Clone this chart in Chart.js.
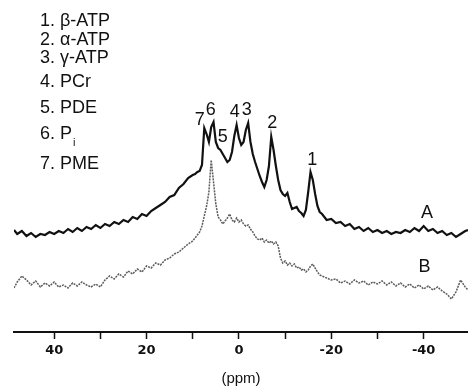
<!DOCTYPE html>
<html lang="en">
<head>
  <meta charset="UTF-8">
  <title>31P spectrum</title>
  <style>
    html, body { margin: 0; padding: 0; background: #fff; }
    #wrap { width: 468px; height: 390px; }
  </style>
</head>
<body>
  <div id="wrap"><canvas id="spectrum"></canvas></div>

  <script src="https://cdn.jsdelivr.net/npm/chart.js@4"></script>
  <script>
    // chemical shift grid (ppm)
    const ppm = [48.7,
      48, 47, 46, 45, 44, 43, 42, 41, 40, 39, 38, 37, 36, 35, 34, 33, 32, 31, 30, 29,
      28, 27, 26, 25, 24, 23, 22, 21, 20, 19, 18, 17, 16, 15, 14, 13, 12, 11, 10,
      9.5, 9, 8.5, 8, 7.5, 7, 6.5, 6, 5.5, 5, 4.5, 4, 3.5, 3, 2.5, 2, 1.5, 1, 0.5, 0,
      -0.5, -1, -1.5, -2, -2.5, -3, -3.5, -4, -4.5, -5, -5.5, -6, -6.5, -7, -7.5, -8,
      -8.5, -9, -9.5, -10, -10.5, -11, -11.5, -12, -12.5, -13, -13.5, -14, -14.5, -15,
      -15.5, -16, -16.5, -17, -17.5, -18,
      -19, -20, -21, -22, -23, -24, -25, -26, -27, -28, -29, -30, -31, -32, -33, -34,
      -35, -36, -37, -38, -39, -40, -41, -42, -43, -44, -45, -46, -47, -48, -49, -49.6];

    // spectrum A (upper trace), arbitrary intensity
    const specA = [102,
      98, 101, 96, 99, 95, 98, 97, 100, 98, 101, 99, 103, 100, 104, 101, 105, 103, 107, 104, 108,
      106, 110, 108, 112, 110, 115, 113, 118, 116, 121, 124, 127, 130, 135, 137, 144, 148, 154, 157,
      158, 160, 161, 167, 204, 198, 190, 205, 210, 190, 184, 182, 178, 174, 170, 172, 180, 196, 207, 194,
      187, 190, 202, 209, 190, 178, 170, 163, 156, 150, 145, 152, 166, 195, 182, 166,
      152, 142, 138, 136, 139, 130, 123, 124, 125, 121, 119, 116, 122, 140,
      160, 152, 138, 126, 120, 118,
      112, 113, 109, 110, 106, 108, 103, 105, 101, 104, 100, 102, 99, 101, 98, 100,
      99, 102, 100, 104, 101, 106, 101, 103, 99, 101, 97, 99, 95, 98, 101, 102];

    // spectrum B (lower trace)
    const specB = [44,
      50, 56, 52, 47, 51, 45, 49, 46, 50, 45, 47, 44, 49, 46, 50, 47, 45, 48, 45, 52,
      56, 53, 58, 55, 61, 58, 63, 60, 66, 64, 69, 67, 72, 74, 78, 80, 84, 88, 91,
      94, 97, 100, 106, 116, 126, 140, 172, 150, 128, 115, 112, 108, 111, 114, 118, 112, 110, 114, 110,
      112, 108, 106, 107, 103, 100, 96, 93, 92, 94, 90, 92, 89, 91, 88, 90,
      86, 74, 69, 71, 67, 69, 66, 68, 64, 65, 62, 63, 60, 62,
      66, 68, 64, 60, 57, 56,
      54, 52, 53, 49, 51, 48, 52, 49, 51, 47, 50, 48, 51, 47, 50, 46,
      49, 45, 48, 44, 47, 43, 46, 42, 45, 41, 38, 33, 40, 52, 45, 42];

    const tickValues = [40, 30, 20, 10, 0, -10, -20, -30, -40];

    // peak assignments and where their numbers sit (ppm, intensity)
    const peakNums = ['1', '2', '3', '4', '5', '6', '7'];
    const peakPpm = [-15.9, -7.2, -1.7, 0.9, 3.5, 6.1, 8.5];
    const peakLabelY = [172, 209, 222, 220, 195, 222, 212];

    const traceNames = ['A', 'B'];
    const tracePpm = [-40.7, -40.2];
    const traceLabelY = [119, 65];

    const legendLines = ['1. β-ATP', '2. α-ATP', '3. γ-ATP', '4. PCr', '5. PDE', '6. P', '7. PME'];

    const labelPlugin = {
      id: 'labels',
      afterDraw(chart) {
        const ctx = chart.ctx;
        const xs = chart.scales.x, ys = chart.scales.y;
        ctx.save();
        ctx.fillStyle = '#111';
        ctx.textAlign = 'center';
        ctx.textBaseline = 'middle';
        ctx.font = '18px "Liberation Sans", Arial, sans-serif';
        peakNums.forEach((n, i) => {
          ctx.fillText(n, xs.getPixelForValue(peakPpm[i]), ys.getPixelForValue(peakLabelY[i]));
        });
        traceNames.forEach((n, i) => {
          ctx.fillText(n, xs.getPixelForValue(tracePpm[i]), ys.getPixelForValue(traceLabelY[i]));
        });

        // key in the top left corner
        ctx.textAlign = 'left';
        ctx.font = '18px "Liberation Sans", Arial, sans-serif';
        const rows = [21, 40, 58, 82, 108, 134, 164];
        legendLines.forEach((t, i) => {
          ctx.fillText(t, 40, rows[i]);
          if (t === '6. P') {
            const w = ctx.measureText(t).width;
            ctx.font = '11px "Liberation Sans", Arial, sans-serif';
            ctx.fillText('i', 40 + w + 1, rows[i] + 9);
            ctx.font = '18px "Liberation Sans", Arial, sans-serif';
          }
        });
        ctx.restore();
      }
    };

    const ctx = document.getElementById('spectrum').getContext('2d');
    const grafico = new Chart(ctx, {
      type: 'line',
      data: {
        datasets: [
          {
            label: 'A',
            data: ppm.map((x, i) => ({ x: x, y: specA[i] })),
            borderColor: '#111',
            borderWidth: 2.2,
            pointRadius: 0,
            tension: 0
          },
          {
            label: 'B',
            data: ppm.map((x, i) => ({ x: x, y: specB[i] })),
            borderColor: '#5c5c5c',
            borderWidth: 1.5,
            borderDash: [2, 1],
            pointRadius: 0,
            tension: 0
          }
        ]
      },
      options: {
        responsive: true,
        maintainAspectRatio: false,
        animation: false,
        layout: { padding: { left: 14, right: 0, top: 0, bottom: 0 } },
        plugins: {
          legend: { display: false },
          tooltip: { enabled: false }
        },
        scales: {
          x: {
            type: 'linear',
            reverse: true,
            min: -49.6,
            max: 48.7,
            afterBuildTicks: (scale) => { scale.ticks = tickValues.map(v => ({ value: v })); },
            afterFit: (scale) => { scale.height = 58; },
            border: { display: true, color: '#111', width: 2 },
            grid: { drawOnChartArea: false, drawTicks: true, tickLength: 7, tickColor: '#111', tickWidth: 1.5 },
            ticks: {
              padding: 4,
              color: '#111',
              maxRotation: 0,
              autoSkip: false,
              font: { family: '"DejaVu Sans", sans-serif', size: 13, weight: 'bold' },
              callback: (v) => (v % 20 === 0 ? String(v) : '')
            },
            title: {
              display: true,
              text: '(ppm)',
              color: '#111',
              padding: { top: 2, bottom: 2 },
              font: { family: '"Liberation Sans", Arial, sans-serif', size: 15 }
            }
          },
          y: {
            display: false,
            min: 0,
            max: 332
          }
        }
      },
      plugins: [labelPlugin]
    });
  </script>
</body>
</html>
